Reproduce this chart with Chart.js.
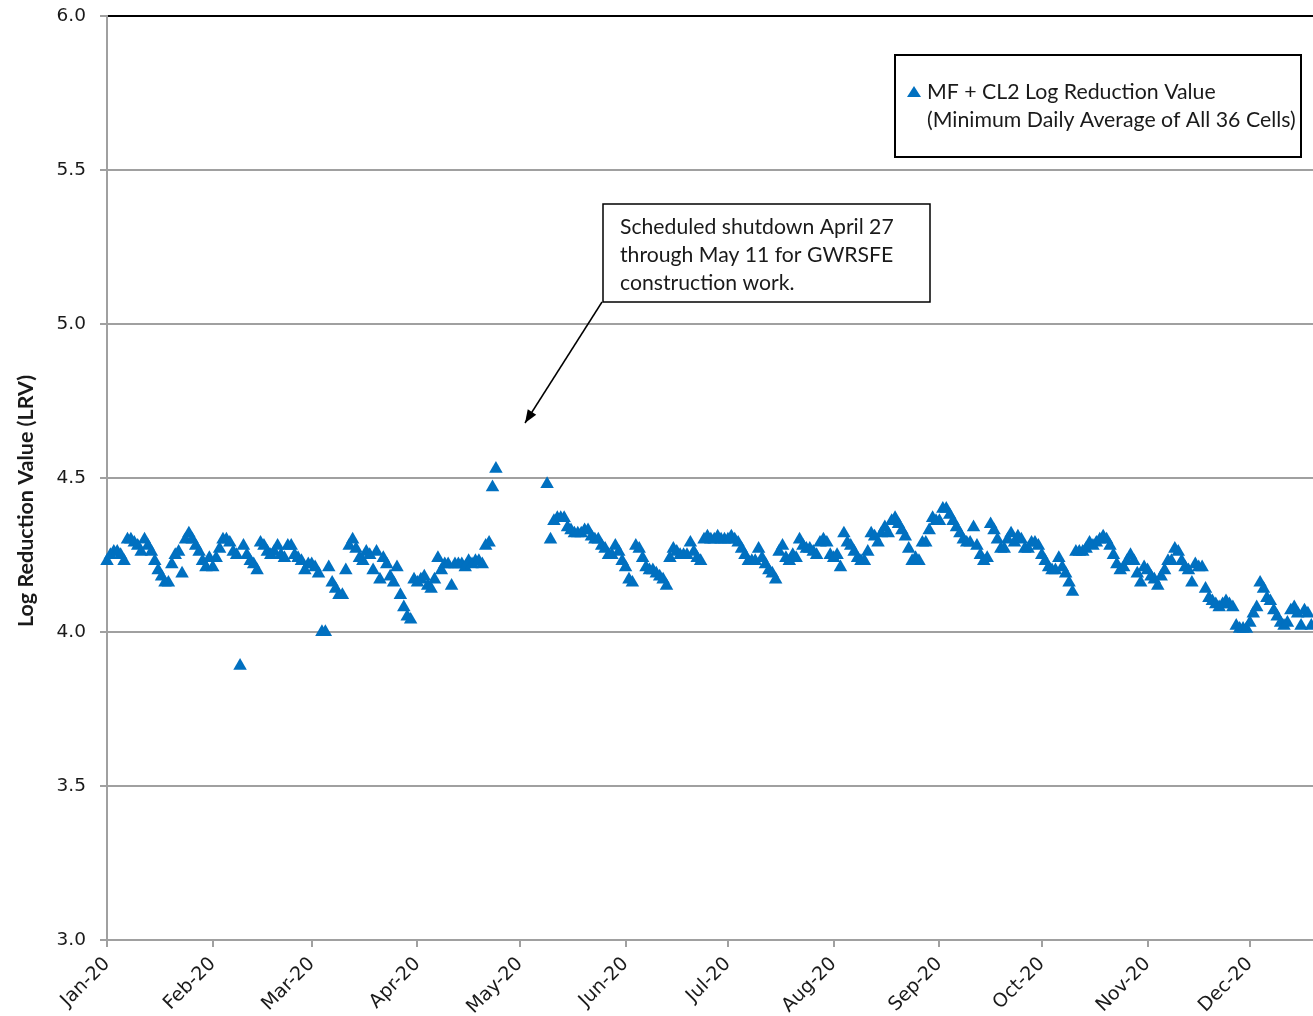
<!DOCTYPE html>
<html>
<head>
<meta charset="utf-8">
<script src="https://cdn.jsdelivr.net/npm/chart.js@4.4.1/dist/chart.umd.min.js"></script>
<style>
  html, body { margin:0; padding:0; background:#fff; }
  canvas { display:block; }
</style>
</head>
<body>
<canvas id="lrv" width="1313" height="1016"></canvas>
<script>
// ---- data (daily minimum LRV; index = day of month - 1) ----
const monthLabels = ['Jan-20','Feb-20','Mar-20','Apr-20','May-20','Jun-20','Jul-20','Aug-20','Sep-20','Oct-20','Nov-20','Dec-20'];
const monthStart  = [0, 31, 60, 91, 121, 152, 182, 213, 244, 274, 305, 335]; // day of year (Jan 1 = 0)

const jan = [4.23,4.25,4.26,4.26,4.25,4.23,4.30,4.30,4.29,4.28,4.26,4.30,4.28,4.26,4.23,4.20,4.18,4.16,4.16,4.22,4.25,4.26,4.19,4.30,4.32,4.30,4.28,4.26,4.23,4.21,4.24];
const feb = [4.21,4.24,4.27,4.30,4.30,4.29,4.26,4.25,3.89,4.28,4.25,4.23,4.22,4.20,4.29,4.28,4.26,4.25,4.26,4.28,4.25,4.24,4.28,4.28,4.25,4.24,4.23,4.20,4.22];
const mar = [4.22,4.21,4.19,4.00,4.00,4.21,4.16,4.14,4.12,4.12,4.20,4.28,4.30,4.27,4.24,4.23,4.26,4.25,4.20,4.26,4.17,4.24,4.22,4.18,4.16,4.21,4.12,4.08,4.05,4.04,4.17];
const apr = [4.16,4.17,4.18,4.15,4.14,4.17,4.24,4.20,4.22,4.22,4.15,4.22,4.22,4.22,4.21,4.23,4.22,4.23,4.23,4.22,4.28,4.29,4.47,4.53,null,null,null,null,null,null];
const may = [null,null,null,null,null,null,null,null,4.48,4.30,4.36,4.37,4.37,4.37,4.34,4.33,4.32,4.32,4.32,4.33,4.33,4.31,4.30,4.30,4.28,4.27,4.25,4.25,4.28,4.26,4.23];
const jun = [4.21,4.17,4.16,4.28,4.27,4.24,4.21,4.20,4.20,4.19,4.18,4.17,4.15,4.24,4.27,4.26,4.25,4.25,4.25,4.29,4.26,4.24,4.23,4.30,4.31,4.30,4.30,4.31,4.30,4.30];
const jul = [4.30,4.31,4.30,4.29,4.27,4.25,4.23,4.23,4.23,4.27,4.24,4.22,4.20,4.19,4.17,4.26,4.28,4.24,4.23,4.25,4.24,4.30,4.28,4.27,4.27,4.26,4.25,4.29,4.30,4.29,4.25];
const aug = [4.24,4.25,4.21,4.32,4.29,4.28,4.26,4.24,4.23,4.23,4.26,4.32,4.31,4.29,4.32,4.34,4.32,4.36,4.37,4.35,4.33,4.31,4.27,4.23,4.24,4.23,4.29,4.29,4.33,4.37,4.36];
const sep = [4.36,4.40,4.40,4.38,4.36,4.34,4.32,4.30,4.29,4.29,4.34,4.28,4.25,4.23,4.24,4.35,4.33,4.30,4.27,4.27,4.30,4.32,4.29,4.31,4.30,4.27,4.27,4.29,4.29,4.28];
const oct = [4.25,4.23,4.21,4.20,4.20,4.24,4.21,4.19,4.16,4.13,4.26,4.26,4.26,4.27,4.29,4.28,4.29,4.30,4.31,4.30,4.28,4.25,4.22,4.20,4.21,4.23,4.25,4.23,4.19,4.16,4.21];
const nov = [4.20,4.18,4.17,4.15,4.18,4.20,4.23,4.23,4.27,4.26,4.23,4.21,4.20,4.16,4.22,4.21,4.21,4.14,4.11,4.10,4.09,4.08,4.09,4.10,4.09,4.08,4.02,4.01,4.01,4.01];
const dec = [4.03,4.06,4.08,4.16,4.14,4.11,4.10,4.07,4.05,4.03,4.02,4.03,4.07,4.08,4.06,4.02,4.07,4.06,4.02];

const yTicks = [3.0, 3.5, 4.0, 4.5, 5.0, 5.5, 6.0];

const seriesLabel = ['MF + CL2 Log Reduction Value', '(Minimum Daily Average of All 36 Cells)'];
const noteLines = ['Scheduled shutdown April 27', 'through May 11 for GWRSFE', 'construction work.'];
const yTitle = 'Log Reduction Value (LRV)';

const BLUE = '#0070C0';
const GRID = '#a0a0a0';
const TXT = '#1a1a1a';

// build points: x = day of year
const months = [jan, feb, mar, apr, may, jun, jul, aug, sep, oct, nov, dec];
const points = [];
months.forEach((vals, m) => {
  vals.forEach((v, i) => { if (v !== null) points.push({ x: monthStart[m] + i, y: v }); });
});

// legend box, callout and y title drawn on top
const overlay = {
  id: 'overlay',
  afterDraw(chart){
    const ctx = chart.ctx;
    ctx.save();

    // y axis title
    ctx.fillStyle = TXT;
    ctx.font = 'bold 21.5px Lato, "Open Sans", sans-serif';
    ctx.textAlign = 'center';
    ctx.textBaseline = 'middle';
    ctx.translate(26, 501);
    ctx.rotate(-Math.PI / 2);
    ctx.fillText(yTitle, 0, 0);
    ctx.setTransform(1, 0, 0, 1, 0, 0);

    // legend
    ctx.fillStyle = '#fff';
    ctx.fillRect(895, 55, 406, 102);
    ctx.strokeStyle = '#000';
    ctx.lineWidth = 2;
    ctx.strokeRect(895, 55, 406, 102);
    ctx.fillStyle = BLUE;
    ctx.beginPath();
    ctx.moveTo(914, 86); ctx.lineTo(921, 97); ctx.lineTo(907, 97); ctx.closePath();
    ctx.fill();
    ctx.fillStyle = TXT;
    ctx.font = '21.3px Lato, "Open Sans", sans-serif';
    ctx.textAlign = 'left';
    ctx.textBaseline = 'alphabetic';
    ctx.fillText(seriesLabel[0], 927, 99);
    ctx.fillText(seriesLabel[1], 927, 127);

    // callout box
    ctx.fillStyle = '#fff';
    ctx.fillRect(603, 204, 327, 98);
    ctx.strokeStyle = '#000';
    ctx.lineWidth = 1.5;
    ctx.strokeRect(603, 204, 327, 98);
    ctx.fillStyle = TXT;
    ctx.font = '21.2px Lato, "Open Sans", sans-serif';
    noteLines.forEach((t, i) => ctx.fillText(t, 620, 234 + i * 28));

    // arrow to the gap
    const x0 = 602, y0 = 302, x1 = 525, y1 = 423;
    ctx.beginPath();
    ctx.moveTo(x0, y0); ctx.lineTo(x1, y1);
    ctx.lineWidth = 1.5;
    ctx.stroke();
    const a = Math.atan2(y1 - y0, x1 - x0), L = 13, W = 5;
    ctx.beginPath();
    ctx.moveTo(x1, y1);
    ctx.lineTo(x1 - L * Math.cos(a) + W * Math.sin(a), y1 - L * Math.sin(a) - W * Math.cos(a));
    ctx.lineTo(x1 - L * Math.cos(a) - W * Math.sin(a), y1 - L * Math.sin(a) + W * Math.cos(a));
    ctx.closePath();
    ctx.fillStyle = '#000';
    ctx.fill();

    ctx.restore();
  }
};

new Chart(document.getElementById('lrv'), {
  type: 'scatter',
  data: {
    datasets: [{
      label: seriesLabel.join(' '),
      data: points,
      pointStyle: 'triangle',
      pointRadius: 7.8,
      pointBackgroundColor: BLUE,
      pointBorderColor: BLUE,
      pointBorderWidth: 0,
      clip: false
    }]
  },
  options: {
    responsive: false,
    animation: false,
    layout: { autoPadding: false, padding: { top: 16, right: 0, left: 0, bottom: 0 } },
    plugins: { legend: { display: false }, tooltip: { enabled: false } },
    scales: {
      x: {
        type: 'linear',
        min: 0, max: 353.5,
        afterBuildTicks: (s) => { s.ticks = monthStart.map(v => ({ value: v })); },
        afterFit: (s) => { s.height = 76; s.paddingLeft = 0; s.paddingRight = 0; },
        ticks: {
          autoSkip: false, maxRotation: 45, minRotation: 45, padding: 6,
          color: TXT, font: { family: '"DejaVu Sans"', size: 19 },
          callback: (v, i) => monthLabels[i]
        },
        grid: { drawOnChartArea: false, drawTicks: true, tickLength: 7, tickColor: GRID, lineWidth: 2 },
        border: { color: GRID, width: 2 }
      },
      y: {
        min: 3, max: 6,
        afterBuildTicks: (s) => { s.ticks = yTicks.map(v => ({ value: v })); },
        afterFit: (s) => { s.width = 107; s.paddingTop = 0; s.paddingBottom = 0; },
        ticks: {
          color: TXT, padding: 14,
          font: { family: '"DejaVu Sans"', size: 18.5 },
          callback: (v) => Number(v).toFixed(1)
        },
        grid: {
          color: (c) => (c.tick && c.tick.value === 6 ? '#000' : GRID),
          lineWidth: 2, tickLength: 7, tickColor: GRID
        },
        border: { color: GRID, width: 2 }
      }
    }
  },
  plugins: [overlay]
});
</script>
</body>
</html>
